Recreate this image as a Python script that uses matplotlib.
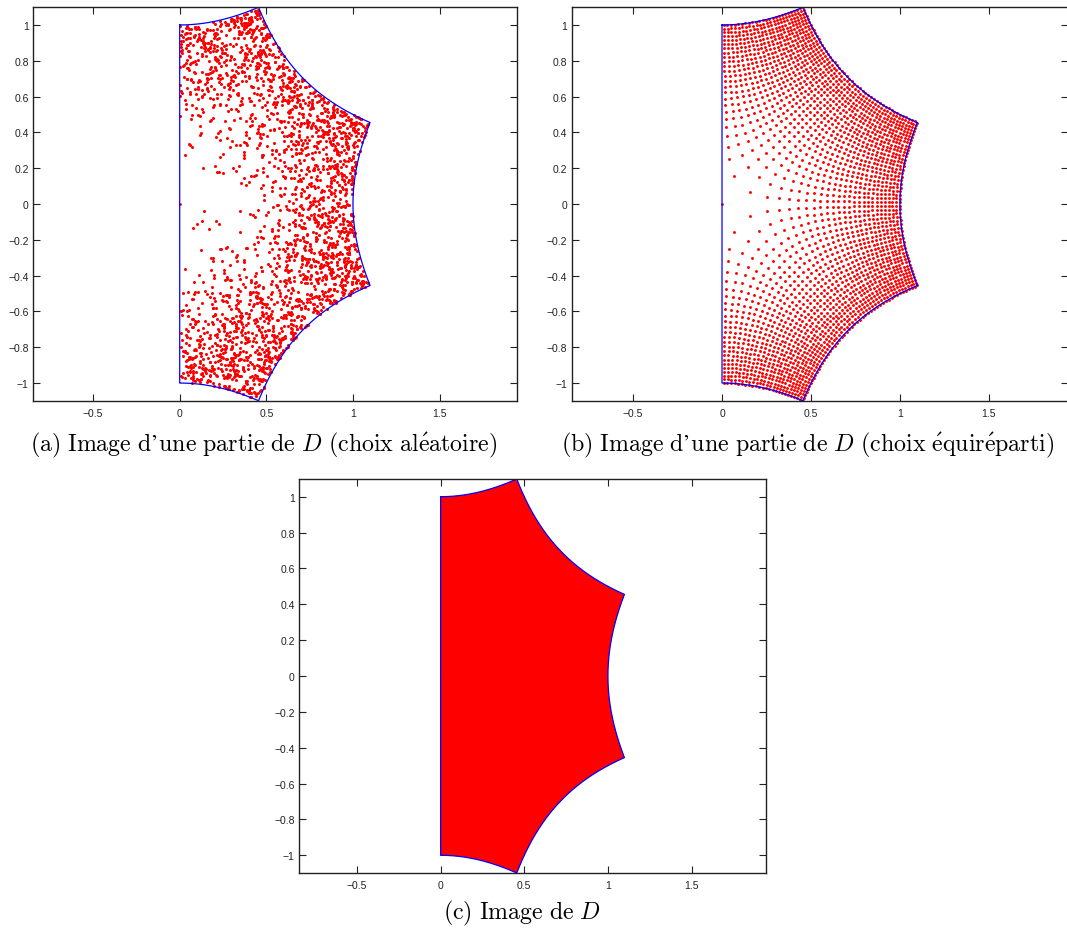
import numpy as np
import matplotlib
matplotlib.use("Agg")
import matplotlib.pyplot as plt

plt.rcParams["mathtext.fontset"] = "cm"

# domaine D : le carre [-1,1] x [-1,1], image par la racine carree
D_X = [-1.0, 1.0]
D_Y = [-1.0, 1.0]
N_GRILLE = 50        # points par cote (choix equireparti)
N_ALEA = 2500        # nombre de points tires (choix aleatoire)
N_BORD = 400         # points par cote pour le trace du bord

XLIM = (-0.845, 1.945)
XTICKS = [-0.5, 0, 0.5, 1, 1.5]
YTICKS = [-1, -0.8, -0.6, -0.4, -0.2, 0, 0.2, 0.4, 0.6, 0.8, 1]

LEGENDES = [
    r"$\mathrm{(a)\ Image\ d’une\ partie\ de\ }D\mathrm{\ (choix\ al\'{e}atoire)}$",
    r"$\mathrm{(b)\ Image\ d’une\ partie\ de\ }D\mathrm{\ (choix\ \'{e}quir\'{e}parti)}$",
    r"$\mathrm{(c)\ Image\ de\ }D$",
]


def f(z):
    return np.sqrt(z)


def bord_image():
    x0, x1 = D_X
    y0, y1 = D_Y
    t = np.linspace(0, 1, N_BORD)
    z = np.concatenate([
        x0 + 1j * (y1 * t),                  # cote gauche, partie haute
        (x0 + (x1 - x0) * t) + 1j * y1,      # haut
        x1 + 1j * (y1 + (y0 - y1) * t),      # droite
        (x1 + (x0 - x1) * t) + 1j * y0,      # bas
        x0 + 1j * (y0 * (1 - t) - 1e-12),    # cote gauche, partie basse
    ])
    w = f(z)
    # coupure : segment [-1, 0] -> segment [-i, i]
    w = np.concatenate([w, [w[-1], 1j * np.sqrt(-x0)]])
    return w.real, w.imag


def style_axes(ax, ylim):
    ax.set_xlim(XLIM)
    ax.set_ylim(ylim)
    ax.set_xticks(XTICKS)
    ax.set_yticks(YTICKS)
    fmt = lambda v: ("%g" % v).replace("-", "\u2212")
    ax.set_xticklabels([fmt(v) for v in XTICKS], fontsize=7.5, family="Liberation Sans")
    ax.set_yticklabels([fmt(v) for v in YTICKS], fontsize=7.5, family="Liberation Sans")
    ax.tick_params(direction="in", length=5, width=0.8, top=True, right=True,
                   colors="#222222")
    ax.tick_params(axis="x", pad=5)
    ax.tick_params(axis="y", pad=3.3)
    for s in ax.spines.values():
        s.set_linewidth(1.0)
        s.set_color("#222222")


bx, by = bord_image()
ylim = (by.min(), by.max())

W, H = 1067, 929
fig = plt.figure(figsize=(W / 100, H / 100), dpi=100)


def axes_px(left, right, top, bottom):
    return fig.add_axes([left / W, 1 - bottom / H, (right - left) / W, (bottom - top) / H])


ax_a = axes_px(33.3, 516.7, 8.3, 401.7)
ax_b = axes_px(571.7, 1068.0, 8.3, 401.7)
ax_c = axes_px(299.3, 766.0, 480.0, 874.0)

# (a) choix aleatoire
rng = np.random.default_rng(7)
za = rng.uniform(D_X[0], D_X[1], N_ALEA) + 1j * rng.uniform(D_Y[0], D_Y[1], N_ALEA)
wa = f(za)
ax_a.plot(wa.real, wa.imag, "o", color="red", ms=2.2, mew=0)

# (b) choix equireparti
gx, gy = np.meshgrid(np.linspace(D_X[0], D_X[1], N_GRILLE),
                     np.linspace(D_Y[0], D_Y[1], N_GRILLE))
wb = f(gx + 1j * gy).ravel()
ax_b.plot(wb.real, wb.imag, "o", color="red", ms=2.1, mew=0)

# (c) image de D
ax_c.fill(bx, by, color="red", lw=0)

for ax in (ax_a, ax_b, ax_c):
    ax.plot([0], [0], "o", color="red", ms=2.0, mew=0)
    ax.plot(bx, by, color="blue", lw=0.9)
    style_axes(ax, ylim)

cap_kw = dict(fontsize=17.2, ha="center", va="baseline")
fig.text(264 / W, 1 - 451.5 / H, LEGENDES[0], **cap_kw)
fig.text(808 / W, 1 - 451.5 / H, LEGENDES[1], **cap_kw)
fig.text(522.5 / W, 1 - 919 / H, LEGENDES[2], **cap_kw)

fig.savefig("out.png", dpi=100)
